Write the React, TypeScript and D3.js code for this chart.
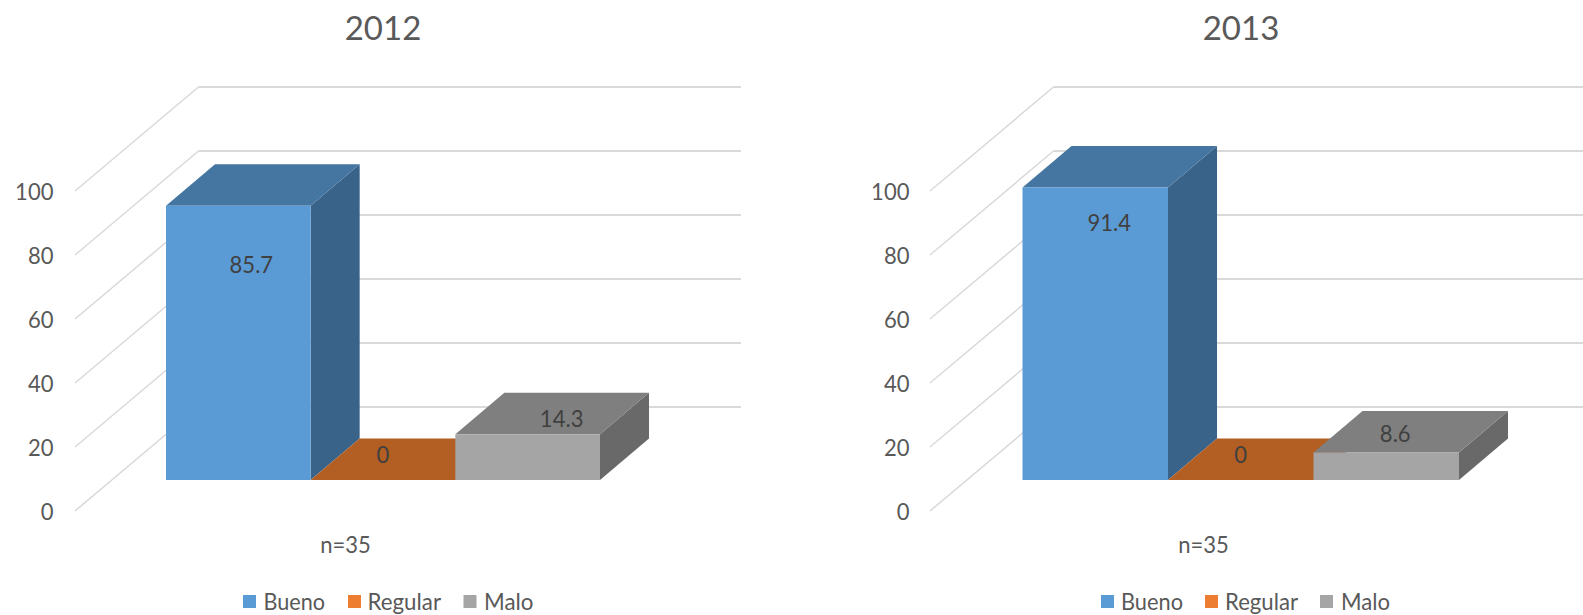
import React from "react";
import * as d3 from "d3";

// Survey ratings per year (percent of respondents)
const categories = ["Bueno", "Regular", "Malo"];
const years = ["2012", "2013"];
const values2012 = [85.7, 0, 14.3];
const values2013 = [91.4, 0, 8.6];
const axisTicks = [0, 20, 40, 60, 80, 100];
const sampleNote = "n=35";

const FONT = "Lato, Carlito, 'Open Sans', sans-serif";
const GRID = "#d9d9d9";
const TEXT = "#595959";
const LABEL = "#404040";

const faces = [
  { front: "#5b9bd5", top: "#4575a1", side: "#3a638a", key: "#5b9bd5" },
  { front: "#b35e22", top: "#b35e22", side: "#8f4b1b", key: "#ed7d31" },
  { front: "#a5a5a5", top: "#7f7f7f", side: "#696969", key: "#a5a5a5" },
];

// Oblique projection of the floor: how far a point moves going to the back wall
const DEPTH_BAR = { dx: 49, dy: 41.5 };
const DEPTH_WALL = { dx: 123.5, dy: 104 };

// Vertical scale of the front plane of the bars, anchored at the bar base
const barY = d3.scaleLinear().domain([0, 100]).range([480, 160]);
// Tick positions on the front edge of the side wall
const frontY = d3.scaleLinear().domain([0, 100]).range([511, 191]);

type Panel = {
  title: string;
  values: number[];
  titleX: number;
  tickLabelX: number;
  wallX: number;
  gridEnd: number;
  barRange: [number, number];
  labelShift: [number, number][];
  noteX: number;
  legend: { swatch: number; text: number; width: number }[];
};

const panels: Panel[] = [
  {
    title: years[0],
    values: values2012,
    titleX: 383,
    tickLabelX: 53.5,
    wallX: 75,
    gridEnd: 741,
    barRange: [166, 600],
    labelShift: [[13, 57.5], [0, -26], [34, -17]],
    noteX: 345.5,
    legend: [
      { swatch: 243, text: 263.5, width: 61.5 },
      { swatch: 348, text: 367.5, width: 73.5 },
      { swatch: 463.5, text: 484, width: 49.5 },
    ],
  },
  {
    title: years[1],
    values: values2013,
    titleX: 1241,
    tickLabelX: 909.5,
    wallX: 930,
    gridEnd: 1583,
    barRange: [1022.5, 1459],
    labelShift: [[14, 34], [0, -26], [9, -20]],
    noteX: 1203.5,
    legend: [
      { swatch: 1101, text: 1121, width: 62 },
      { swatch: 1205, text: 1225, width: 73 },
      { swatch: 1320, text: 1341, width: 49 },
    ],
  },
];

function poly(points: [number, number][]) {
  return d3.line()(points) + "Z";
}

// Chart text is set tall and slightly condensed
function Narrow({
  x,
  y,
  anchor,
  fill,
  children,
}: {
  x: number;
  y: number;
  anchor: "start" | "middle" | "end";
  fill: string;
  children: React.ReactNode;
}) {
  return (
    <text
      transform={`translate(${x},${y}) scale(0.92,1)`}
      fontSize={24}
      fill={fill}
      textAnchor={anchor}
      dominantBaseline="central"
    >
      {children}
    </text>
  );
}

function ChartPanel({ p }: { p: Panel }) {
  const x = d3.scaleBand().domain(categories).range(p.barRange).padding(0);
  const backX = p.wallX + DEPTH_WALL.dx;

  return (
    <g fontFamily={FONT}>
      <text x={p.titleX} y={26.5} fontSize={33} fill={TEXT} textAnchor="middle" dominantBaseline="central">
        {p.title}
      </text>

      {axisTicks.map((t) => {
        const fy = frontY(t);
        const by = fy - DEPTH_WALL.dy;
        return (
          <g key={t}>
            <line x1={p.wallX} y1={fy} x2={backX} y2={by} stroke={GRID} strokeWidth={1.5} />
            <line x1={backX} y1={by} x2={p.gridEnd} y2={by} stroke={GRID} strokeWidth={2} />
            <Narrow x={p.tickLabelX} y={fy} anchor="end" fill={TEXT}>
              {t}
            </Narrow>
          </g>
        );
      })}

      {categories.map((c, i) => {
        const x0 = x(c) as number;
        const x1 = x0 + x.bandwidth();
        const yTop = barY(p.values[i]);
        const yBase = barY(0);
        const { dx, dy } = DEPTH_BAR;
        const f = faces[i];
        return (
          <g key={c}>
            <path d={poly([[x1, yTop], [x1 + dx, yTop - dy], [x1 + dx, yBase - dy], [x1, yBase]])} fill={f.side} />
            <path d={poly([[x0, yTop], [x0 + dx, yTop - dy], [x1 + dx, yTop - dy], [x1, yTop]])} fill={f.top} />
            <rect x={x0} y={yTop} width={x.bandwidth()} height={yBase - yTop} fill={f.front} />
          </g>
        );
      })}

      {categories.map((c, i) => {
        const x0 = x(c) as number;
        const [sx, sy] = p.labelShift[i];
        return (
          <Narrow key={c} x={x0 + x.bandwidth() / 2 + sx} y={barY(p.values[i]) + sy} anchor="middle" fill={LABEL}>
            {p.values[i]}
          </Narrow>
        );
      })}

      <Narrow x={p.noteX} y={543.5} anchor="middle" fill={TEXT}>
        {sampleNote}
      </Narrow>

      {categories.map((c, i) => (
        <g key={c}>
          <rect x={p.legend[i].swatch} y={595} width={13} height={13} fill={faces[i].key} />
          <text
            x={p.legend[i].text}
            y={600.5}
            fontSize={24}
            fill={TEXT}
            dominantBaseline="central"
            textLength={p.legend[i].width}
            lengthAdjust="spacingAndGlyphs"
          >
            {c}
          </text>
        </g>
      ))}
    </g>
  );
}

export default function App() {
  return (
    <svg
      width={1583}
      height={615}
      viewBox="0 0 1583 615"
      style={{ position: "absolute", left: 0, top: 0, display: "block", background: "#fff" }}
    >
      {panels.map((p) => (
        <ChartPanel key={p.title} p={p} />
      ))}
    </svg>
  );
}
